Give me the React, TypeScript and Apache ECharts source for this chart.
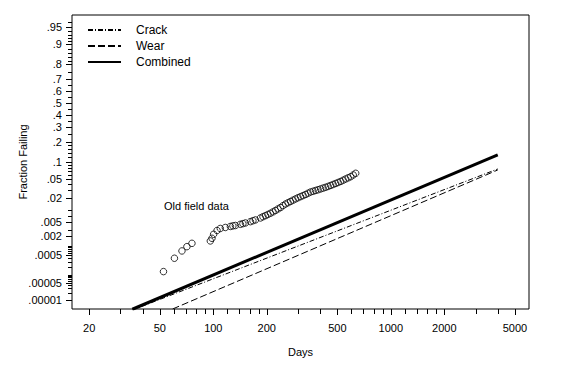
import React, { useEffect, useRef } from "react";
import * as echarts from "echarts";

const FONT = "'Liberation Sans', Arial, Helvetica, sans-serif";

// axis ranges
const xMin = 16;
const xMax = 6000;
const pMin = 0.0000041;
const pMax = 0.9716;

// x ticks
const xTickValues = [20, 30, 40, 50, 60, 70, 80, 90, 100, 120, 140, 160, 180, 200, 300, 400, 500, 600, 700, 800, 900, 1000, 1200, 1400, 1600, 1800, 2000, 3000, 4000, 5000];
const xTickLabels = [20, 50, 100, 200, 500, 1000, 2000, 5000];

// y ticks (probability scale)
const yLabelP = [0.95, 0.9, 0.8, 0.7, 0.6, 0.5, 0.4, 0.3, 0.2, 0.1, 0.05, 0.02, 0.005, 0.002, 0.0005, 0.00005, 0.00001];
const yLabelText = [".95", ".9", ".8", ".7", ".6", ".5", ".4", ".3", ".2", ".1", ".05", ".02", ".005", ".002", ".0005", ".00005", ".00001"];
const yMinorP = [0.96, 0.94, 0.93, 0.92, 0.91, 0.88, 0.86, 0.84, 0.82, 0.75, 0.65, 0.55, 0.45, 0.35, 0.25, 0.18, 0.16, 0.14, 0.12, 0.09, 0.08, 0.07, 0.06, 0.04, 0.03, 0.01, 0.007, 0.003, 0.001, 0.0009, 0.0008, 0.0007, 0.0006, 0.0004, 0.0003, 0.0002, 0.0001, 0.00009, 0.00008, 0.00007, 0.00006, 0.00004, 0.00003, 0.00002];

// old field data
const fieldDays = [52.4, 60.4, 66.6, 71.0, 75.8, 96.2, 98.3, 100.4, 105, 109.5, 116.9, 124.8, 128.9, 133.2, 142.1, 146.8, 151.7, 161.8, 167.2, 172.7, 184.3, 190.4, 196.7, 203, 209.9, 217, 224, 231.5, 239.1, 247, 255.2, 263.6, 272.3, 281.3, 290.6, 300, 310.1, 320.3, 331, 342, 353.2, 365, 376.9, 389.4, 402.2, 415.5, 429.3, 443.5, 458.1, 473.3, 489, 505, 521.8, 539, 556.9, 575, 594.3, 614, 634.2];
const fieldFraction = [0.000131, 0.000388, 0.00068, 0.000935, 0.00119, 0.00141, 0.0017, 0.00224, 0.00289, 0.0033, 0.00352, 0.00376, 0.0039, 0.004, 0.00432, 0.0045, 0.0047, 0.0051, 0.0054, 0.00567, 0.0064, 0.0069, 0.00736, 0.0079, 0.00849, 0.0092, 0.00998, 0.0109, 0.0118, 0.0131, 0.0144, 0.0154, 0.0165, 0.0177, 0.0189, 0.0201, 0.0213, 0.0225, 0.0238, 0.0254, 0.027, 0.028, 0.0291, 0.0302, 0.0314, 0.0327, 0.034, 0.0355, 0.0371, 0.0389, 0.0407, 0.0427, 0.0447, 0.0473, 0.05, 0.0526, 0.0553, 0.0596, 0.064];

// fitted lines
const crackDays = [35, 4000];
const crackFraction = [0.0000037, 0.0766];
const wearDays = [59, 4000];
const wearFraction = [0.0000041, 0.0735];
const combinedDays = [35, 4000];
const combinedFraction = [0.000004, 0.131];

// inverse standard normal CDF (probability paper transform)
function probit(p: number): number {
  const a = [-3.969683028665376e1, 2.209460984245205e2, -2.759285104469687e2, 1.38357751867269e2, -3.066479806614716e1, 2.506628277459239];
  const b = [-5.447609879822406e1, 1.615858368580409e2, -1.556989798598866e2, 6.680131188771972e1, -1.328068155288572e1];
  const c = [-7.784894002430293e-3, -3.223964580411365e-1, -2.400758277161838, -2.549732539343734, 4.374664141464968, 2.938163982698783];
  const d = [7.784695709041462e-3, 3.224671290700398e-1, 2.445134137142996, 3.754408661907416];
  const plow = 0.02425;
  const phigh = 1 - plow;
  let q: number, r: number;
  if (p < plow) {
    q = Math.sqrt(-2 * Math.log(p));
    return (((((c[0] * q + c[1]) * q + c[2]) * q + c[3]) * q + c[4]) * q + c[5]) / ((((d[0] * q + d[1]) * q + d[2]) * q + d[3]) * q + 1);
  }
  if (p <= phigh) {
    q = p - 0.5;
    r = q * q;
    return ((((((a[0] * r + a[1]) * r + a[2]) * r + a[3]) * r + a[4]) * r + a[5]) * q) / (((((b[0] * r + b[1]) * r + b[2]) * r + b[3]) * r + b[4]) * r + 1);
  }
  q = Math.sqrt(-2 * Math.log(1 - p));
  return -(((((c[0] * q + c[1]) * q + c[2]) * q + c[3]) * q + c[4]) * q + c[5]) / ((((d[0] * q + d[1]) * q + d[2]) * q + d[3]) * q + 1);
}

export default function App() {
  const ref = useRef<HTMLDivElement>(null);

  useEffect(() => {
    if (!ref.current) return;
    const chart = echarts.init(ref.current, undefined, { renderer: "svg" });
    const yMinZ = probit(pMin);
    const yMaxZ = probit(pMax);

    const yTickItems = [
      ...yLabelP.map((p, i) => ({ p, label: yLabelText[i] })),
      ...yMinorP.map((p) => ({ p, label: "" })),
    ];

    const toPts = (days: number[], fr: number[]) => days.map((dd, i) => [dd, probit(fr[i])]);
    const noSymbol = { color: "rgba(0,0,0,0)", borderWidth: 0 };

    const option: any = {
      animation: false,
      backgroundColor: "#fff",
      textStyle: { fontFamily: FONT },
      grid: { left: 72, top: 15, right: 33, bottom: 59, show: true, borderColor: "#000", borderWidth: 1, backgroundColor: "transparent" },
      legend: {
        data: ["Crack", "Wear", "Combined"],
        orient: "vertical",
        left: 87,
        top: 24,
        itemWidth: 33,
        itemHeight: 10,
        itemGap: 4,
        padding: 0,
        itemStyle: { color: "rgba(0,0,0,0)", borderWidth: 0 },
        textStyle: { fontSize: 12, color: "#000", fontFamily: FONT, padding: [0, 0, 0, 10] },
      },
      xAxis: {
        type: "log",
        logBase: 10,
        min: xMin,
        max: xMax,
        name: "Days",
        nameLocation: "middle",
        nameGap: 37,
        nameTextStyle: { fontSize: 11, color: "#000", fontFamily: FONT },
        axisLine: { show: false },
        axisTick: { show: false },
        axisLabel: { show: false },
        splitLine: { show: false },
      },
      yAxis: {
        type: "value",
        min: yMinZ,
        max: yMaxZ,
        name: "Fraction Failing",
        nameLocation: "middle",
        nameGap: 44,
        nameRotate: 90,
        nameTextStyle: { fontSize: 11, color: "#000", fontFamily: FONT },
        axisLine: { show: false },
        axisTick: { show: false },
        axisLabel: { show: false },
        splitLine: { show: false },
      },
      graphic: [
        {
          type: "text",
          left: 164,
          top: 200,
          style: { text: "Old field data", fontSize: 11, fill: "#000", fontFamily: FONT },
        },
      ],
      series: [
        {
          name: "Old field data",
          type: "scatter",
          data: toPts(fieldDays, fieldFraction),
          symbol: "circle",
          symbolSize: 6.5,
          itemStyle: { color: "rgba(255,255,255,0)", borderColor: "#000", borderWidth: 1 },
          z: 3,
        },
        {
          name: "Crack",
          type: "line",
          data: toPts(crackDays, crackFraction),
          symbol: "none",
          lineStyle: { color: "#000", width: 1, type: [5, 2, 1, 2] },
          itemStyle: noSymbol,
          z: 4,
        },
        {
          name: "Wear",
          type: "line",
          data: toPts(wearDays, wearFraction),
          symbol: "none",
          lineStyle: { color: "#000", width: 1, type: [7, 3] },
          itemStyle: noSymbol,
          z: 4,
        },
        {
          name: "Combined",
          type: "line",
          data: toPts(combinedDays, combinedFraction),
          symbol: "none",
          lineStyle: { color: "#000", width: 3 },
          itemStyle: noSymbol,
          z: 5,
        },
        {
          name: "xTicks",
          type: "custom",
          silent: true,
          clip: false,
          encode: { x: 0, y: 1 },
          data: xTickValues.map((v) => [v, yMinZ]),
          renderItem: (params: any, api: any) => {
            const v = api.value(0);
            const pt = api.coord([v, api.value(1)]);
            const major = xTickLabels.indexOf(v) >= 0;
            const x = Math.round(pt[0]) + 0.5;
            const children: any[] = [
              { type: "line", shape: { x1: x, y1: pt[1], x2: x, y2: pt[1] + (major ? 6 : 5) }, style: { stroke: "#000", lineWidth: 1 } },
            ];
            if (major) {
              children.push({
                type: "text",
                x: pt[0],
                y: pt[1] + 19,
                style: { text: String(v), fill: "#000", fontSize: 11, fontFamily: FONT, align: "center", verticalAlign: "middle" },
              });
            }
            return { type: "group", children };
          },
        },
        {
          name: "yTicks",
          type: "custom",
          silent: true,
          clip: false,
          encode: { x: 0, y: 1 },
          data: yTickItems.map((it) => [xMin, probit(it.p)]),
          renderItem: (params: any, api: any) => {
            const it = yTickItems[params.dataIndex];
            const pt = api.coord([api.value(0), api.value(1)]);
            const major = it.label !== "";
            const len = major ? 6 : 4;
            const y = Math.round(pt[1]) + 0.5;
            const children: any[] = [
              { type: "line", shape: { x1: pt[0] - len, y1: y, x2: pt[0], y2: y }, style: { stroke: "#000", lineWidth: 1 } },
            ];
            if (major) {
              children.push({
                type: "text",
                x: pt[0] - 10,
                y: pt[1],
                style: { text: it.label, fill: "#000", fontSize: 11, fontFamily: FONT, align: "right", verticalAlign: "middle" },
              });
            }
            return { type: "group", children };
          },
        },
      ],
    };
    chart.setOption(option);
    return () => chart.dispose();
  }, []);

  return <div ref={ref} style={{ position: "absolute", left: 0, top: 0, width: 562, height: 368 }} />;
}
